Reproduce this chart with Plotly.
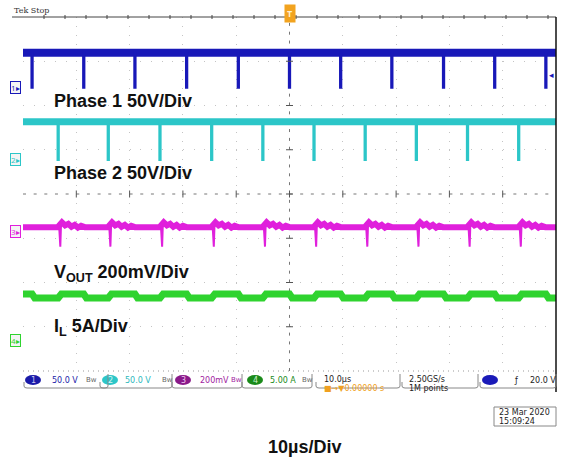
import plotly.graph_objects as go

W, H = 561, 463

# ---------------- data ----------------
# time axis: 10 div x 10 us/div, centred on trigger
t_range = [-50, 50]
div_range = [-4, 4]

# channel scales and ground-marker positions (in divisions from centre)
ch1_scale, ch1_offset_div = 50.0, 2.40     # V/div
ch2_scale, ch2_offset_div = 50.0, 0.77     # V/div
ch3_scale, ch3_offset_div = 200.0, -0.75   # mV/div (relative to DC level)
ch4_scale, ch4_offset_div = 5.0, -3.30     # A/div
ch3_marker_div = -0.84

# Phase 1 switch node (V)
ph1_high_v = 39.5
ph1_low_v = 0.0
ph1_pulse_t = [-48.3, -38.6, -29.0, -19.3, -9.6, 0.0, 9.6, 19.2, 28.9, 38.5, 48.1]

# Phase 2 switch node (V)
ph2_high_v = 43.0
ph2_low_v = 0.0
ph2_pulse_t = [-43.4, -34.0, -24.3, -14.6, -5.0, 4.6, 14.2, 23.8, 33.4, 43.0]

# Vout ripple (mV around DC level)
vout_spike_t = [-43.0, -33.6, -23.9, -14.2, -4.6, 5.0, 14.6, 24.2, 33.8, 43.4]
vout_spike_dt = [-0.45, -0.25, 0.0, 0.15, 0.3]
vout_spike_mv = [0, 18, -88, 26, 18]
vout_ring_dt = [0.3, 0.9, 1.5, 2.1, 2.7, 3.3, 3.9, 4.6]
vout_ring_mv = [22, 8, 15, 2, 10, -2, 6, 0]

# Inductor current (A)
il_low_a = 4.75
il_high_a = 5.2
il_up_t = [-43.4, -34.0, -24.3, -14.6, -5.0, 4.6, 14.2, 23.8, 33.4, 43.0]
il_down_t = [-48.3, -38.6, -29.0, -19.3, -9.6, 0.0, 9.6, 19.2, 28.9, 38.5, 48.1]

# colours
C1, C2, C3, C4 = "#1818b8", "#2cc6c8", "#e020dc", "#2fd32f"


def d1(v):
    return ch1_offset_div + v / ch1_scale


def d2(v):
    return ch2_offset_div + v / ch2_scale


def d3(v):
    return ch3_offset_div + v / ch3_scale


def d4(v):
    return ch4_offset_div + v / ch4_scale


fig = go.Figure()

# ---- channel 1 ----
fig.add_trace(go.Scatter(x=t_range, y=[d1(ph1_high_v)] * 2, mode="lines",
                         line=dict(color=C1, width=8), hoverinfo="skip"))
px1, py1 = [], []
for t in ph1_pulse_t:
    px1 += [t - 0.12, t - 0.12, t + 0.12, t + 0.12, None]
    py1 += [d1(ph1_high_v), d1(ph1_low_v), d1(ph1_low_v), d1(ph1_high_v), None]
fig.add_trace(go.Scatter(x=px1, y=py1, mode="lines", line=dict(color=C1, width=2)))

# ---- channel 2 ----
fig.add_trace(go.Scatter(x=t_range, y=[d2(ph2_high_v)] * 2, mode="lines",
                         line=dict(color=C2, width=7)))
px2, py2 = [], []
for t in ph2_pulse_t:
    px2 += [t - 0.12, t - 0.12, t + 0.12, t + 0.12, None]
    py2 += [d2(ph2_high_v), d2(ph2_low_v), d2(ph2_low_v), d2(ph2_high_v), None]
fig.add_trace(go.Scatter(x=px2, y=py2, mode="lines", line=dict(color=C2, width=2)))

# ---- channel 3 ----
bx, by = [t_range[0]], [d3(0)]
for ts in vout_spike_t:
    bx.append(ts - 0.5)
    by.append(d3(0))
    for dt, mv in zip(vout_ring_dt, vout_ring_mv):
        bx.append(ts + dt)
        by.append(d3(mv))
bx.append(t_range[1])
by.append(d3(0))
fig.add_trace(go.Scatter(x=bx, y=by, mode="lines", line=dict(color=C3, width=6)))
sx, sy = [], []
for ts in vout_spike_t:
    for dt, mv in zip(vout_spike_dt, vout_spike_mv):
        sx.append(ts + dt)
        sy.append(d3(mv))
    sx.append(None)
    sy.append(None)
fig.add_trace(go.Scatter(x=sx, y=sy, mode="lines", line=dict(color=C3, width=2)))

# ---- channel 4 ----
events = sorted([(t, "up") for t in il_up_t] + [(t, "down") for t in il_down_t])
gx, gy = [t_range[0]], [d4(il_high_a)]
for t, kind in events:
    if kind == "down":
        gx += [t, t + 0.5]
        gy += [d4(il_high_a), d4(il_low_a)]
    else:
        gx += [t, t + 0.6]
        gy += [d4(il_low_a), d4(il_high_a)]
gx.append(t_range[1])
gy.append(gy[-1])
fig.add_trace(go.Scatter(x=gx, y=gy, mode="lines", line=dict(color=C4, width=7)))

# ---- graticule centre-line ticks ----
fig.add_trace(go.Scatter(x=list(range(-40, 50, 10)), y=[0] * 9, mode="markers",
                         marker=dict(symbol="line-ns", size=5, line=dict(color="#555", width=1))))
fig.add_trace(go.Scatter(x=[0] * 7, y=list(range(-3, 4)), mode="markers",
                         marker=dict(symbol="line-ew", size=5, line=dict(color="#555", width=1))))


def px(x):
    return x / W


def py(y):
    return 1 - y / H


shapes = [
    # centre dashed lines
    dict(type="line", xref="x", yref="y", x0=-50, x1=50, y0=0, y1=0,
         line=dict(color="#777", width=1, dash="3px,7.66px"), layer="below"),
    dict(type="line", xref="x", yref="y", x0=0, x1=0, y0=-4, y1=4,
         line=dict(color="#777", width=1, dash="3px,5.85px"), layer="below"),
    # top border
    dict(type="line", xref="paper", yref="paper", x0=px(12), x1=px(556), y0=py(17), y1=py(17),
         line=dict(color="#444", width=1)),
    # bottom border (dotted)
    dict(type="line", xref="paper", yref="paper", x0=px(23), x1=px(556), y0=py(371), y1=py(371),
         line=dict(color="#999", width=1, dash="1px,4px")),
    # right border
    dict(type="line", xref="paper", yref="paper", x0=px(556), x1=px(556), y0=py(17), y1=py(392),
         line=dict(color="#111", width=1.5)),
]
# top-border ticks
for xt in range(44, 556, 21):
    shapes.append(dict(type="line", xref="paper", yref="paper", x0=px(xt), x1=px(xt),
                       y0=py(15), y1=py(19), line=dict(color="#444", width=1)))

# status-bar channel ellipses
for cx, col in [(33, "#1a1aa8"), (110, "#2cc6c8"), (183, "#8a1a8a"), (255, "#1a8a1a"), (490, "#1a1ab8")]:
    shapes.append(dict(type="circle", xref="paper", yref="paper", x0=px(cx - 8), x1=px(cx + 8),
                       y0=py(385), y1=py(375), fillcolor=col, line=dict(width=0)))
# status-bar group underlines / boxes
for xa, xb in [(24, 108), (100, 172), (172, 242), (242, 312), (316, 400), (402, 478), (480, 556)]:
    shapes.append(dict(type="path", xref="paper", yref="paper",
                       path=f"M {px(xa)},{py(382)} L {px(xa)},{py(386)} Q {px(xa)},{py(388)} {px(xa+3)},{py(388)} "
                            f"L {px(xb-3)},{py(388)} Q {px(xb)},{py(388)} {px(xb)},{py(386)} L {px(xb)},{py(374)}",
                       line=dict(color="#888", width=1)))
# date box
shapes.append(dict(type="rect", xref="paper", yref="paper", x0=px(494), x1=px(556), y0=py(426), y1=py(407),
                   line=dict(color="#888", width=1)))

ann = []


def T(x, y, text, size=9, color="#222", xanchor="left", family="DejaVu Sans", **kw):
    ann.append(dict(x=px(x), y=py(y), xref="paper", yref="paper", text=text, showarrow=False,
                    xanchor=xanchor, yanchor="middle",
                    font=dict(size=size, color=color, family=family), **kw))


# big labels
BIG = "Liberation Sans"
T(52, 101, "<b>Phase 1 50V/Div</b>", size=18, color="#111", family=BIG)
T(52, 173, "<b>Phase 2 50V/Div</b>", size=18, color="#111", family=BIG)
T(52, 273, "<b>V<sub>OUT</sub> 200mV/Div</b>", size=18, color="#111", family=BIG)
T(52, 327, "<b>I<sub>L</sub> 5A/Div</b>", size=18, color="#111", family=BIG)
T(304, 447, "<b>10µs/Div</b>", size=18, color="#111", family=BIG, xanchor="center")

# header
T(12, 10, "Tek Stop", size=8, color="#333", family="DejaVu Serif")
ann.append(dict(x=0, y=py(14), xref="x", yref="paper", text="<b>T</b>", showarrow=False,
                font=dict(size=9, color="#fff0d0"), bgcolor="#f2a31f", borderpad=2,
                xanchor="center", yanchor="middle"))

# ground markers
for yy, lab, col in [(ch1_offset_div, "1", C1), (ch2_offset_div, "2", C2),
                     (ch3_marker_div, "3", C3), (ch4_offset_div, "4", C4)]:
    ann.append(dict(x=px(16), y=yy, xref="paper", yref="y", text=lab + "▸", showarrow=False,
                    font=dict(size=8, color=col), bgcolor="#f4f4f4", bordercolor=col,
                    borderwidth=1, borderpad=0, xanchor="center", yanchor="middle"))
# trigger level arrow
ann.append(dict(x=px(551), y=py(75), xref="paper", yref="paper", text="◂", showarrow=False,
                font=dict(size=9, color=C1), xanchor="center", yanchor="middle"))

# status bar
T(33, 380, "1", size=8, color="#c8c8f0", xanchor="center")
T(50, 380, "50.0 V", size=8, color="#1a1aa8")
T(84, 380, "Bw", size=7, color="#666")
T(110, 380, "2", size=8, color="#d8f4f4", xanchor="center")
T(123, 380, "50.0 V", size=8, color="#2cb8bc")
T(160, 380, "Bw", size=7, color="#666")
T(183, 380, "3", size=8, color="#f0c8f0", xanchor="center")
T(198, 380, "200mV", size=8, color="#a01aa0")
T(229, 380, "Bw", size=7, color="#a01aa0")
T(255, 380, "4", size=8, color="#c8f0c8", xanchor="center")
T(268, 380, "5.00 A", size=8, color="#1a8a1a")
T(300, 380, "Bw", size=7, color="#666")
T(322, 379, "10.0µs", size=8, color="#222")
T(322, 388, "■→▼0.00000 s", size=8, color="#f0a020")
T(407, 379, "2.50GS/s", size=8, color="#222")
T(407, 388, "1M points", size=8, color="#222")
T(512, 380, "ƒ", size=8, color="#222")
T(528, 380, "20.0 V", size=8, color="#222")
T(497, 412, "23 Mar 2020", size=8, color="#222")
T(497, 421, "15:09:24", size=8, color="#222")

fig.update_layout(
    width=W, height=H, margin=dict(l=0, r=0, t=0, b=0),
    paper_bgcolor="white", plot_bgcolor="white", showlegend=False,
    shapes=shapes, annotations=ann,
    xaxis=dict(domain=[23 / W, 556 / W], range=t_range, tickvals=[-40, -30, -20, -10, 10, 20, 30, 40],
               showticklabels=False, showgrid=True, gridcolor="#c4c4c4", gridwidth=1,
               griddash="1px,7.85px", zeroline=False, showline=False, ticks=""),
    yaxis=dict(domain=[1 - 371 / H, 1 - 17 / H], range=div_range, tickvals=[-3, -2, -1, 1, 2, 3],
               showticklabels=False, showgrid=True, gridcolor="#c4c4c4", gridwidth=1,
               griddash="1px,9.66px", zeroline=False, showline=False, ticks=""),
)

fig.write_html("out.html")
